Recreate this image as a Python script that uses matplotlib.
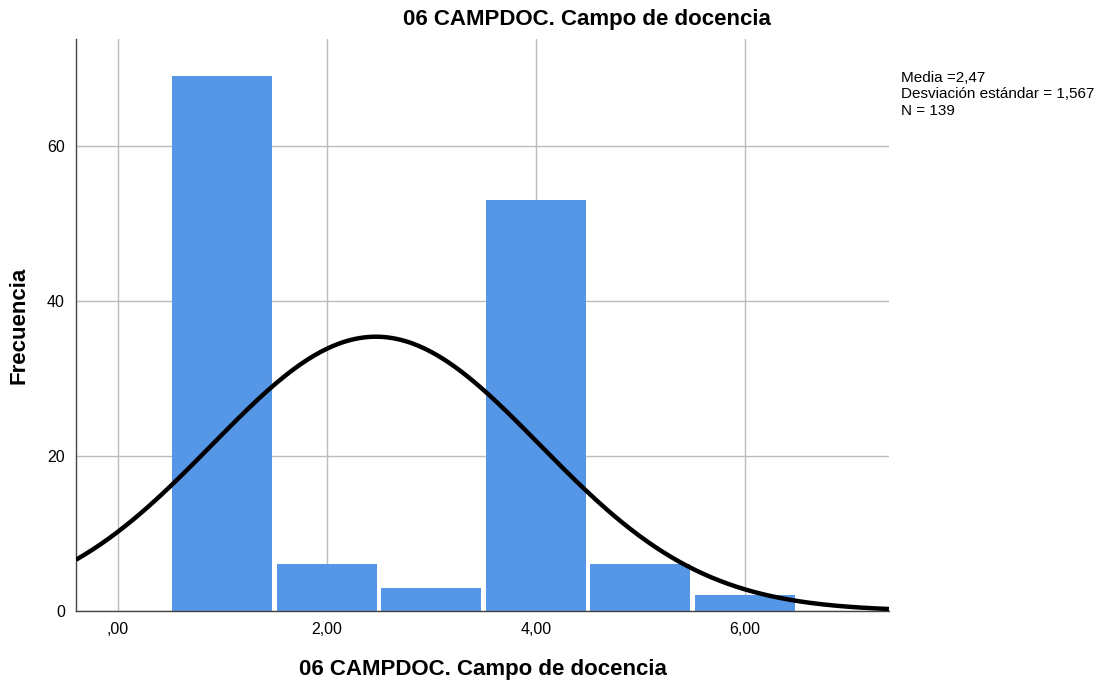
import numpy as np
import matplotlib
matplotlib.use("Agg")
import matplotlib.pyplot as plt

plt.rcParams["font.family"] = ["Liberation Sans", "DejaVu Sans"]

# frecuencias por valor
values = [1, 2, 3, 4, 5, 6]
counts = [69, 6, 3, 53, 6, 2]
mean = 2.47
std = 1.567
n = 139

xticks = [0, 2, 4, 6]
xticklabels = [",00", "2,00", "4,00", "6,00"]
yticks = [0, 20, 40, 60]

BAR_COLOR = "#5596E6"
W, H = 1102, 689

fig = plt.figure(figsize=(11.02, 6.89), dpi=100)
ax = fig.add_axes([76 / W, 1 - 611 / H, (889 - 76) / W, (611 - 39) / H])

ax.bar(values, counts, width=0.958, color=BAR_COLOR, linewidth=0, zorder=2)

# curva normal escalada a la frecuencia
xs = np.linspace(-0.4, 7.38, 400)
pdf = n * 1.0 / (std * np.sqrt(2 * np.pi)) * np.exp(-0.5 * ((xs - mean) / std) ** 2)
ax.plot(xs, pdf, color="black", linewidth=3.2, zorder=3, solid_capstyle="butt")

ax.set_xlim(-0.4, 7.38)
ax.set_ylim(0, 73.8)
ax.set_xticks(xticks)
ax.set_xticklabels(xticklabels, fontsize=11.5)
ax.set_yticks(yticks)
ax.set_yticklabels([str(v) for v in yticks], fontsize=11.5)
ax.tick_params(axis="x", length=0, pad=8)
ax.tick_params(axis="y", length=0, pad=8)

ax.grid(True, color="#bcbcbc", linewidth=1.0, zorder=0)
ax.set_axisbelow(True)
for s in ["top", "right"]:
    ax.spines[s].set_visible(False)
for s in ["left", "bottom"]:
    ax.spines[s].set_color("#444444")
    ax.spines[s].set_linewidth(1.0)

fig.text(587 / W, 1 - 20 / H, "06 CAMPDOC. Campo de docencia", fontsize=16,
         fontweight="bold", ha="center", va="center")
fig.text(483 / W, 1 - 670 / H, "06 CAMPDOC. Campo de docencia", fontsize=16,
         fontweight="bold", ha="center", va="center")
fig.text(19 / W, 1 - 325 / H, "Frecuencia", fontsize=16, fontweight="bold",
         rotation=90, ha="center", va="center")

fig.text(901 / W, 1 - 71 / H, "Media =2,47\nDesviación estándar = 1,567\nN = 139",
         fontsize=11, va="top", ha="left", linespacing=1.22)

fig.savefig("out.png", dpi=100)
